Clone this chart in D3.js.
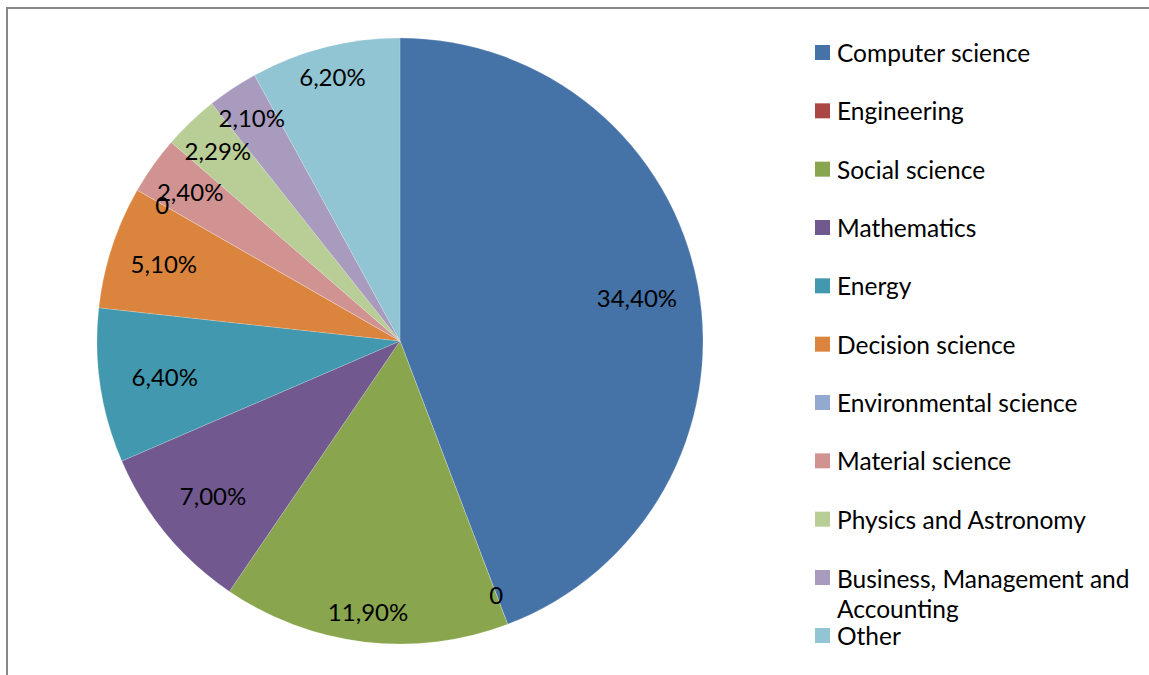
<!DOCTYPE html>
<html><head><meta charset="utf-8">
<script src="https://cdn.jsdelivr.net/npm/d3@7"></script>
<style>html,body{margin:0;padding:0;background:#fff;}svg{display:block;}</style>
</head><body>
<script>
const categories = ["Computer science","Engineering","Social science","Mathematics","Energy","Decision science","Environmental science","Material science","Physics and Astronomy","Business, Management and Accounting","Other"];
const values = [34.40, 0, 11.90, 7.00, 6.40, 5.10, 0, 2.40, 2.29, 2.10, 6.20];
const labels = ["34,40%","0","11,90%","7,00%","6,40%","5,10%","0","2,40%","2,29%","2,10%","6,20%"];
const colors = ["#4572A7","#AA4643","#89A54E","#71588F","#4198AF","#DB843D","#93A9CF","#D19392","#B9CD96","#A99BBD","#92C5D3"];
// layout: label distance as fraction of radius (Excel best-fit placement)
const labelRadiusFrac = [0.795,0.895,0.9,0.8,0.785,0.82,0.905,0.85,0.87,0.885,0.9];

const W=1149,H=675;
const svg=d3.select("body").append("svg").attr("width",W).attr("height",H);
const font="Lato, 'Open Sans', sans-serif";

svg.append("path").attr("d","M7,676 L7,8 L1150,8").attr("fill","none").attr("stroke","#878787").attr("stroke-width",2);

const cx=400, cy=341, r=303;
const pie=d3.pie().sort(null).value(d=>d)(values);
const arc=d3.arc().innerRadius(0).outerRadius(r);
const g=svg.append("g").attr("transform",`translate(${cx},${cy})`);
g.selectAll("path.s").data(pie).join("path").attr("class","s")
  .attr("d",arc).attr("fill",(d,i)=>colors[i]).attr("stroke","#fff").attr("stroke-opacity",0.35).attr("stroke-width",0.5);

g.selectAll("text.l").data(pie).join("text").attr("class","l")
  .attr("transform",(d,i)=>{const a=(d.startAngle+d.endAngle)/2, rr=r*labelRadiusFrac[i];
     return `translate(${Math.sin(a)*rr},${-Math.cos(a)*rr})`;})
  .attr("text-anchor","middle").attr("dominant-baseline","central")
  .attr("font-family",font).attr("font-size",24).attr("fill","#000")
  .text((d,i)=>labels[i]);

// legend
const leg=svg.append("g");
const rowY=d3.scaleLinear().domain([0,9]).range([52.5,577.5]);
categories.forEach((c,i)=>{
  const y = i<10 ? rowY(i) : 635.5;
  leg.append("rect").attr("x",815).attr("y",y-7.5).attr("width",15).attr("height",15).attr("fill",colors[i]);
  const t=leg.append("text").attr("x",837).attr("y",y).attr("dominant-baseline","central")
    .attr("font-family",font).attr("font-size",24.5).attr("fill","#000");
  if(c==="Business, Management and Accounting"){
    t.append("tspan").attr("x",837).text("Business, Management and");
    t.append("tspan").attr("x",837).attr("dy",30).text("Accounting");
  } else t.text(c);
});
</script>
</body></html>
